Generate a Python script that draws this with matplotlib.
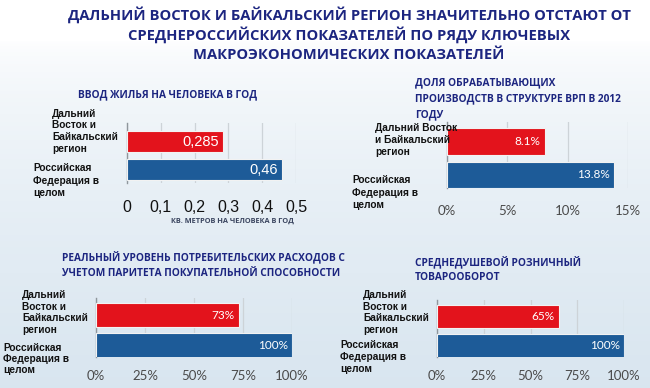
import numpy as np
import matplotlib.pyplot as plt

W, H = 650, 388

# --- данные ---
title_lines = ["ДАЛЬНИЙ ВОСТОК И БАЙКАЛЬСКИЙ РЕГИОН ЗНАЧИТЕЛЬНО ОТСТАЮТ ОТ",
               "СРЕДНЕРОССИЙСКИХ ПОКАЗАТЕЛЕЙ ПО РЯДУ КЛЮЧЕВЫХ",
               "МАКРОЭКОНОМИЧЕСКИХ ПОКАЗАТЕЛЕЙ"]

dfo_label = ["Дальний", "Восток и", "Байкальский", "регион"]
dfo_label_wide = ["Дальний Восток", "и Байкальский", "регион"]
rf_label = ["Российская", "Федерация в", "целом"]

housing_title = ["ВВОД ЖИЛЬЯ НА ЧЕЛОВЕКА В ГОД"]
housing = [0.285, 0.46]
housing_text = ["0,285", "0,46"]
housing_ticks = [0, 0.1, 0.2, 0.3, 0.4, 0.5]
housing_ticklabels = ["0", "0,1", "0,2", "0,3", "0,4", "0,5"]
housing_unit = "КВ. МЕТРОВ НА ЧЕЛОВЕКА В ГОД"

manuf_title = ["ДОЛЯ ОБРАБАТЫВАЮЩИХ", "ПРОИЗВОДСТВ В СТРУКТУРЕ ВРП В 2012", "ГОДУ"]
manuf = [8.1, 13.8]
manuf_text = ["8.1%", "13.8%"]
manuf_ticks = [0, 5, 10, 15]
manuf_ticklabels = ["0%", "5%", "10%", "15%"]

cons_title = ["РЕАЛЬНЫЙ УРОВЕНЬ ПОТРЕБИТЕЛЬСКИХ РАСХОДОВ С",
              "УЧЕТОМ ПАРИТЕТА ПОКУПАТЕЛЬНОЙ СПОСОБНОСТИ"]
cons = [73, 100]
cons_text = ["73%", "100%"]

retail_title = ["СРЕДНЕДУШЕВОЙ РОЗНИЧНЫЙ", "ТОВАРООБОРОТ"]
retail = [65, 100]
retail_text = ["65%", "100%"]

pct_ticks = [0, 25, 50, 75, 100]
pct_ticklabels = ["0%", "25%", "50%", "75%", "100%"]

RED = "#e3131c"
BLUE = "#1d5b98"
NAVY = "#1c2580"

fig = plt.figure(figsize=(6.5, 3.88), dpi=100)

# фон: белый сверху, светло-голубой снизу
bg = fig.add_axes([0, 0, 1, 1])
t = np.clip((np.arange(H) - 40) / (H - 40), 0, 1) ** 0.6
top = np.array([1.0, 1.0, 1.0])
bot = np.array([0.85, 0.90, 0.94])
grad = top[None, :] * (1 - t[:, None]) + bot[None, :] * t[:, None]
bg.imshow(grad[:, None, :], aspect="auto", extent=[0, 1, 0, 1])
bg.axis("off")


def lines_at(x, y, lines, dy, **kw):
    for i, s in enumerate(lines):
        fig.text(x / W, 1 - (y + i * dy) / H, s, va="center", **kw)


def px_axes(x0, x1, y0, y1):
    return fig.add_axes([x0 / W, 1 - y1 / H, (x1 - x0) / W, (y1 - y0) / H])


def panel(box, ylim, values, texts, ticks, ticklabels, bar_h,
          vfont, tfont, pad, tcolor):
    ax = px_axes(*box)
    ax.set_facecolor("none")
    ax.barh([1, 0], values, height=bar_h, color=[RED, BLUE],
            edgecolor="#f2f2f2", linewidth=0.8, zorder=3)
    for y, v, s in zip([1, 0], values, texts):
        ax.annotate(s, (v, y), xytext=(-3, 0), textcoords="offset points",
                    ha="right", va="center", color="white", zorder=4, **vfont)
    ax.set_xlim(ticks[0], ticks[-1])
    ax.set_ylim(*ylim)
    ax.set_xticks(ticks, ticklabels)
    for lb in ax.get_xticklabels():
        lb.set(**tfont)
    ax.tick_params(axis="x", length=0, pad=pad, colors=tcolor)
    ax.set_yticks([])
    ax.grid(axis="x", color="#cdd3d8", linewidth=0.9, zorder=0)
    for side in ["top", "right", "bottom"]:
        ax.spines[side].set_visible(False)
    ax.spines["left"].set_color("#8f969c")
    ax.spines["left"].set_linewidth(1.0)
    return ax


# заголовок
for i, s in enumerate(title_lines):
    fig.text(349 / W, 1 - (15 + 20 * i) / H, s, ha="center", va="center",
             color=NAVY, fontsize=10.6, fontweight="bold", family="Open Sans")

sub = dict(color=NAVY, fontsize=7.3, fontweight="bold", family="Open Sans")
cat = dict(color="#111111", fontsize=7.3, fontweight="bold", family="Liberation Sans")
pct_v = dict(fontsize=8.5, family="Lato")
pct_t = dict(fontsize=9.5, family="Lato")

# панель 1
lines_at(78, 95, housing_title, 15, **sub)
lines_at(52, 114, dfo_label, 11.5, **cat)
lines_at(33, 168, rf_label, 12.5, **cat)
panel((127, 296, 123, 183), (-0.48, 1.66), housing, housing_text,
      housing_ticks, housing_ticklabels, 0.78,
      dict(fontsize=10.5, family="Liberation Sans"),
      dict(fontsize=11.5, family="Liberation Sans"), 12.5, "#111111")
fig.text(232 / W, 1 - 221 / H, housing_unit, ha="center", va="center",
         color="#3b4660", fontsize=5.3, fontweight="bold", family="Open Sans")

# панель 2
lines_at(415, 83, manuf_title, 16, **sub)
lines_at(375, 128, dfo_label_wide, 12, **cat)
lines_at(352, 180, rf_label, 12.5, **cat)
panel((447, 628, 122, 188), (-0.39, 1.58), manuf, manuf_text,
      manuf_ticks, manuf_ticklabels, 0.8, pct_v, pct_t, 12, "#4a4a4a")

# панель 3
lines_at(62, 258, cons_title, 15, **sub)
lines_at(22, 295, dfo_label, 11.7, **cat)
lines_at(3, 348, rf_label, 11, **cat)
panel((96, 292, 298, 357), (-0.38, 1.56), cons, cons_text,
      pct_ticks, pct_ticklabels, 0.8, pct_v, pct_t, 9, "#4a4a4a")

# панель 4
lines_at(415, 263, retail_title, 15, **sub)
lines_at(363, 295, dfo_label, 11.7, **cat)
lines_at(340, 345, rf_label, 12, **cat)
panel((437, 624, 300, 357), (-0.38, 1.56), retail, retail_text,
      pct_ticks, pct_ticklabels, 0.8, pct_v, pct_t, 9, "#4a4a4a")

fig.savefig("out.png", dpi=100)
